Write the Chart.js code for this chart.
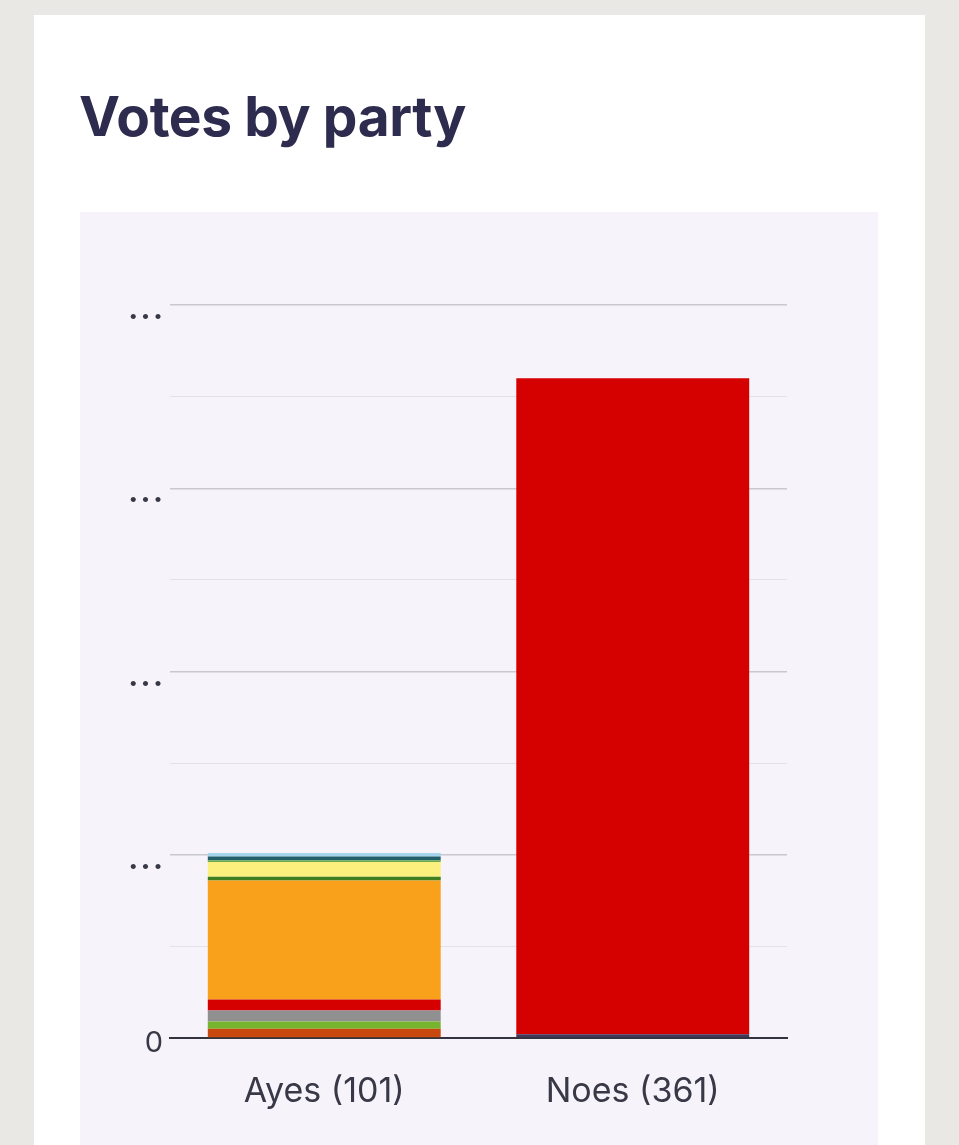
<!DOCTYPE html>
<html>
<head>
<meta charset="utf-8">
<script src="https://cdn.jsdelivr.net/npm/chart.js@4"></script>
<style>
  html, body { margin: 0; padding: 0; }
  body { background: #e9e8e5; width: 959px; height: 1145px; overflow: hidden; position: relative; font-family: Inter, "Noto Sans", sans-serif; }
  .card { position: absolute; left: 34px; top: 15px; width: 891px; height: 1200px; background: #fff; }
  h2 { position: absolute; left: 45px; top: 68px; margin: 0; font-size: 55px; line-height: 66px; font-weight: 700; color: #2d2b4e; letter-spacing: -0.4px; }
  .panel { position: absolute; left: 46px; top: 197px; width: 798px; height: 933px; background: #f6f4fa; }
  canvas { display: block; }
</style>
</head>
<body>
<div class="card">
  <h2>Votes by party</h2>
  <div class="panel"><canvas id="votesChart" width="798" height="933"></canvas></div>
</div>
<script>
// vote counts per party, bottom of stack first
const categories = ['Ayes (101)', 'Noes (361)'];
const parties = ['Plaid Cymru', 'Green', 'Independent', 'Labour', 'Liberal Democrat', 'SDLP', 'SNP', 'Alliance', 'Reform', 'DUP', 'Other'];
const ayesVotes = [5, 4, 6, 6, 65, 2, 8, 1, 2, 2, 0];
const noesVotes = [0, 0, 0, 358, 0, 0, 0, 0, 0, 0, 2];
const partyColours = ['#c9480f', '#78b52e', '#909090', '#d50000', '#f9a11b', '#3f7f1f', '#fbef7e', '#6aa84f', '#225f6b', '#a6d4ec', '#41385a'];

// keep "Other" at the bottom of the Noes bar
const order = [10, 0, 1, 2, 3, 4, 5, 6, 7, 8, 9];

const datasets = order.map(i => ({
    label: parties[i],
    data: [ayesVotes[i], noesVotes[i]],
    backgroundColor: partyColours[i],
    borderWidth: 0,
    barPercentage: 0.755,
    categoryPercentage: 1
}));

const ctx = document.getElementById('votesChart').getContext('2d');
new Chart(ctx, {
    type: 'bar',
    data: { labels: categories, datasets },
    options: {
        responsive: false,
        animation: false,
        devicePixelRatio: 1,
        layout: { padding: { top: 93, right: 91, left: 0, bottom: 0 } },
        plugins: {
            legend: { display: false },
            tooltip: { enabled: false }
        },
        scales: {
            x: {
                stacked: true,
                grid: { display: false, drawTicks: false },
                border: { display: true, color: '#33333d', width: 2 },
                ticks: {
                    padding: 33,
                    color: '#383846',
                    font: { family: 'Inter', size: 34 }
                },
                afterFit: scale => { scale.height = 107; }
            },
            y: {
                stacked: true,
                min: 0,
                max: 400,
                grid: {
                    drawTicks: false,
                    color: c => c.tick.value % 100 === 0 ? '#c9c8cf' : '#e3e1e9',
                    lineWidth: c => c.tick.value % 100 === 0 ? 1.5 : 1
                },
                border: { display: false },
                ticks: {
                    stepSize: 50,
                    padding: 7,
                    labelOffset: 5,
                    color: '#383846',
                    font: c => (c.tick && c.tick.value === 0)
                        ? { family: 'Inter', size: 29 }
                        : { family: 'Inter', size: 30, weight: 'bold' },
                    callback: v => v === 0 ? '0' : (v % 100 === 0 ? '.\u200A.\u200A.' : '')
                },
                afterFit: scale => { scale.width = 90; }
            }
        }
    }
});
</script>
</body>
</html>
